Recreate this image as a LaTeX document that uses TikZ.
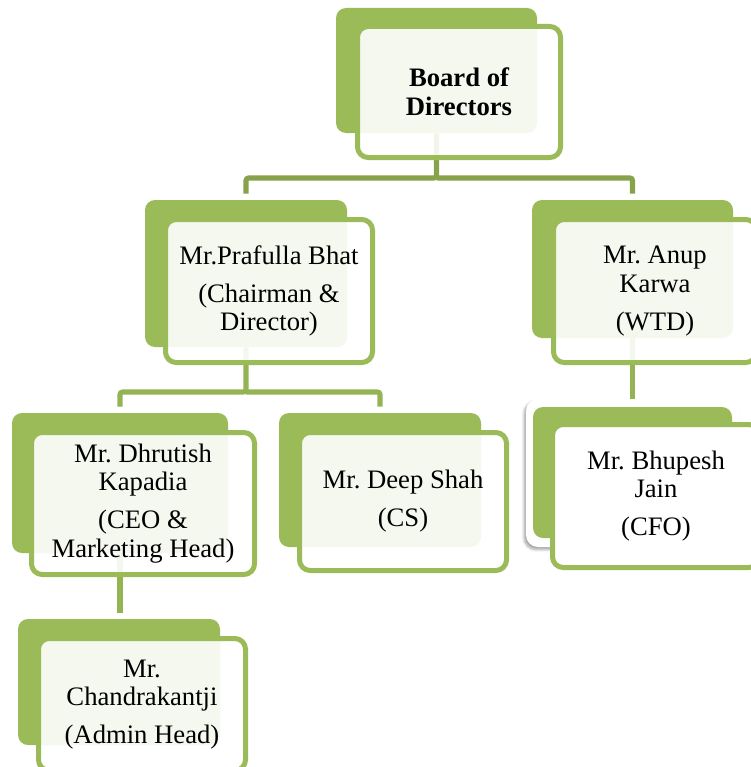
\documentclass[tikz,border=0pt]{standalone}
\usepackage{fontspec}
\setmainfont{Liberation Serif}
\frenchspacing
\usetikzlibrary{backgrounds,shadows.blur}
\definecolor{boxgreen}{HTML}{9BBB59}
\definecolor{linkgreen}{HTML}{94B454}
\definecolor{linkdark}{HTML}{88A24C}
\tikzset{
  backbox/.style 2 args={rectangle,rounded corners=7.5pt,fill=boxgreen,inner sep=0pt,
    minimum width=#1*0.75pt,minimum height=#2*0.75pt},
  frontbox/.style 2 args={rectangle,rounded corners=8pt,draw=boxgreen,line width=3.75pt,
    fill=white,fill opacity=0.9,text opacity=1,inner sep=0pt,align=center,
    font=\fontsize{20}{21.5}\selectfont,minimum width=#1*0.75pt,minimum height=#2*0.75pt},
  link/.style={draw=linkgreen,line width=3.9pt,rounded corners=2pt,shorten >=4.5pt},
}

\begin{document}
\begin{tikzpicture}[x=0.75pt,y=-0.75pt]
\path[use as bounding box] (0,0) rectangle (750,767);
\coordinate (bus1) at (0,178);
\coordinate (bus2) at (0,392);

\node[backbox={201}{125}] (bodback) at (436.5,70.5) {};
\node[frontbox={203}{131},font=\fontsize{20}{21.5}\selectfont\bfseries] (bod) at (459,92) {Board of\\Directors};

\node[backbox={202}{147}] (pbback) at (246,273.5) {};
\node[frontbox={207}{143}] (pb) at (269,291) {Mr.Prafulla Bhat\\[7pt](Chairman \&\\Director)};

\node[backbox={201}{138}] (akback) at (632.5,269) {};
\node[frontbox={203}{143}] (ak) at (655,291) {Mr. Anup\\Karwa\\[7pt](WTD)};

\node[backbox={216}{140}] (dkback) at (120,483) {};
\node[frontbox={223}{142}] (dk) at (143,503.5) {Mr. Dhrutish\\Kapadia\\[7pt](CEO \&\\Marketing Head)};

\node[backbox={202}{134}] (dsback) at (380,480) {};
\node[frontbox={207}{138}] (ds) at (403,501.5) {Mr. Deep Shah\\[7pt](CS)};

\node[rectangle,rounded corners=9pt,fill=white,minimum width=214*0.75pt,minimum height=148*0.75pt,
  blur shadow={shadow xshift=-1.5pt,shadow yshift=-2pt,shadow blur steps=6,shadow opacity=35}] (bjframe) at (633,473) {};
\node[backbox={199}{131}] (bjback) at (632.5,472.5) {};
\node[frontbox={207}{143},fill opacity=1] (bj) at (656,496) {Mr. Bhupesh\\Jain\\[7pt](CFO)};

\node[backbox={202}{126}] (cjback) at (119,682) {};
\node[frontbox={207}{132}] (cj) at (142,704.5) {Mr.\\Chandrakantji\\[7pt](Admin Head)};

\begin{pgfonlayer}{background}
\draw[link,draw=linkdark] (bodback.south) -- (bodback.south |- bus1) -| (pbback.north);
\draw[link,draw=linkdark] (bodback.south |- bus1) -| (akback.north);
\draw[link] (pbback.south) -- (pbback.south |- bus2) -| (dkback.north);
\draw[link] (pbback.south |- bus2) -| (dsback.north);
\draw[link] (akback.south) -- (bjback.north);
\draw[link] (dkback.south) -- (dkback.south |- cjback.north);
\end{pgfonlayer}
\end{tikzpicture}
\end{document}
